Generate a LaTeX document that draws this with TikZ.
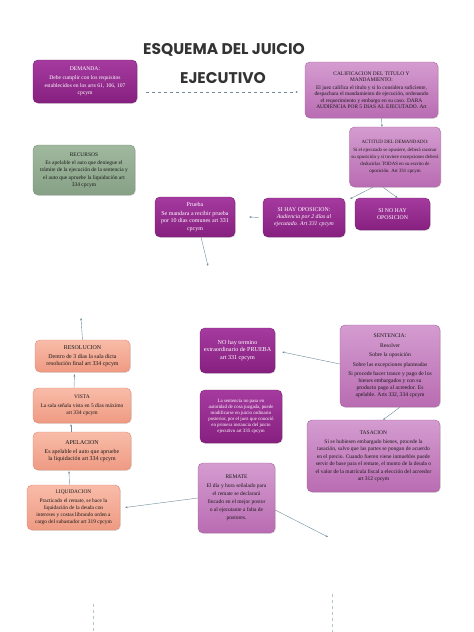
\documentclass[tikz,border=0pt]{standalone}
\usepackage{fontspec}
\setmainfont{Liberation Serif}
\newfontfamily\titlefont{Poppins}
\usetikzlibrary{arrows.meta,shadows}
\definecolor{magtop}{HTML}{A53A9F}
\definecolor{magbot}{HTML}{86207F}
\definecolor{magline}{HTML}{7A1C74}
\definecolor{lilatop}{HTML}{D49CD0}
\definecolor{lilabot}{HTML}{B96CB2}
\definecolor{lilaline}{HTML}{A9629F}
\definecolor{saltop}{HTML}{F8BCA8}
\definecolor{salbot}{HTML}{EF9A83}
\definecolor{salline}{HTML}{E28A73}
\definecolor{gretop}{HTML}{A0B89E}
\definecolor{grebot}{HTML}{87A186}
\definecolor{greline}{HTML}{7A9479}
\definecolor{linkcol}{HTML}{6F8C9A}
\begin{document}
\begin{tikzpicture}[x=1pt,y=-1pt,
    box/.style={rounded corners=5pt, align=center, inner sep=2pt,
      font=\fontsize{5.5}{7.2}\selectfont,
      drop shadow={opacity=0.25,shadow xshift=0.8pt,shadow yshift=-0.8pt}},
    magbox/.style={box, top color=magtop, bottom color=magbot, draw=magline, text=white},
    lilabox/.style={box, top color=lilatop, bottom color=lilabot, draw=lilaline, text=black!90},
    salbox/.style={box, top color=saltop, bottom color=salbot, draw=salline, text=black!90},
    grebox/.style={box, top color=gretop, bottom color=grebot, draw=greline, text=black!90},
    link/.style={draw=linkcol, line width=0.4pt, -{Stealth[length=2.4pt,width=2pt]}},
    trail/.style={draw=linkcol!50, line width=0.4pt, dashed}]
    \useasboundingbox[fill=white] (0,0) rectangle (474,632);
    % title
    \node[font=\titlefont\bfseries\fontsize{15.5}{16}\selectfont, text=black!80] (title1) at (224,50) {ESQUEMA DEL JUICIO};
    \node[font=\titlefont\bfseries\fontsize{15.5}{16}\selectfont, text=black!80] (title2) at (223,78) {EJECUTIVO};
    % first row
    \node[magbox, minimum width=104pt, minimum height=43pt, font=\fontsize{5.6}{7.5}\selectfont] (demanda) at (85,81.5)
        {DEMANDA:\\[1.5pt] Debe cumplir con los requisitos\\ establecidos en los arts 61, 106, 107\\ cpcym};
    \node[lilabox, minimum width=133pt, minimum height=56pt, font=\fontsize{5.4}{6.3}\selectfont] (calif) at (371.5,90)
        {CALIFICACION DEL TITULO Y\\ MANDAMIENTO:\\[2pt] El juez califica el título y si lo considera suficiente,\\ despachara el mandamiento de ejecución, ordenando\\ el requerimiento y embargo en su caso. DARA\\ AUDIENCIA POR 5 DIAS AL EJECUTADO. Art};
    \node[lilabox, minimum width=90pt, minimum height=60pt, font=\fontsize{4.9}{7}\selectfont] (actitud) at (395,157)
        {ACTITUD DEL DEMANDADO:\\[1pt] Si el ejecutado se opusiere, deberá razonar\\ su oposición y si tuviere excepciones deberá\\ deducirlas TODAS en su escrito de\\ oposición. Art 331 cpcym};
    \node[grebox, minimum width=102pt, minimum height=50pt] (recursos) at (84,170)
        {RECURSOS\\[1.5pt] Es apelable el auto que deniegue el\\ trámite de la ejecución de la sentencia y\\ el auto que apruebe la liquidación art\\ 334 cpcym};
    \node[magbox, minimum width=80pt, minimum height=40pt, font=\fontsize{6}{7.6}\selectfont] (prueba) at (195,217)
        {Prueba\\[1pt] Se mandara a recibir prueba\\ por 10 días comunes art 331\\ cpcym};
    \node[magbox, minimum width=82pt, minimum height=39pt, font=\fontsize{5.8}{7}\selectfont] (sihay) at (304,217.5)
        {SI HAY OPOSICION:\\ \itshape Audiencia por 2 días al\\ \itshape ejecutado. Art 331 cpcym};
    \node[magbox, minimum width=75pt, minimum height=32pt, font=\fontsize{5.8}{7}\selectfont] (sinohay) at (392.5,214)
        {SI NO HAY\\ OPOSICION};
    % middle
    \node[magbox, minimum width=75pt, minimum height=45pt, font=\fontsize{6.1}{7.6}\selectfont] (nohay) at (237.5,350.5)
        {NO hay termino\\ extraordinario de PRUEBA\\ art 331 cpcym};
    \node[lilabox, minimum width=100pt, minimum height=82pt, font=\fontsize{5.6}{7}\selectfont] (sentencia) at (390,366)
        {SENTENCIA:\\[2.5pt] Resolver\\[2.5pt] Sobre la oposición\\[2.5pt] Sobre las excepciones planteadas\\[2.5pt] Si procede hacer trance y pago de los\\ bienes embargados y con su\\ producto pago al acreedor. Es\\ apelable. Arts 332, 334 cpcym};
    \node[magbox, minimum width=82pt, minimum height=53pt, font=\fontsize{4.9}{6.1}\selectfont] (lasent) at (241,416.5)
        {La sentencia no pasa en\\ autoridad de cosa juzgada, puede\\ modificarse en juicio ordinario\\ posterior, por el juez que conoció\\ en primera instancia del juicio\\ ejecutivo art 335 cpcym};
    \node[lilabox, minimum width=133pt, minimum height=72pt, font=\fontsize{5.5}{7.4}\selectfont] (tasacion) at (373.5,456)
        {TASACION\\[2pt] Si se hubiesen embargado bienes, procede la\\ tasación, salvo que las partes se pongan de acuerdo\\ en el precio. Cuando fueren viene inmuebles puede\\ servir de base para el remate, el monto de la deuda o\\ el valor de la matrícula fiscal a elección del acreedor\\ art 312 cpcym};
    \node[lilabox, minimum width=77pt, minimum height=70pt, font=\fontsize{5.5}{8}\selectfont] (remate) at (236.5,498)
        {REMATE\\[1.5pt] El día y hora señalado para\\ el remate se declarará\\ fincado en el mejor postor\\ o al ejecutante a falta de\\ postores.};
    % left column
    \node[salbox, minimum width=95pt, minimum height=32pt, font=\fontsize{5.9}{7.2}\selectfont] (resolucion) at (82.5,356)
        {RESOLUCION\\[2pt] Dentro de 3 días la sala dicta\\ resolución final art 334 cpcym};
    \node[salbox, minimum width=98pt, minimum height=35pt] (vista) at (82,405.5)
        {VISTA\\[2pt] La sala señala vista en 5 días máximo\\ art 334 cpcym};
    \node[salbox, minimum width=98pt, minimum height=38pt, font=\fontsize{5.9}{7.2}\selectfont] (apelacion) at (82,451)
        {APELACION\\[2pt] Es apelable el auto que apruebe\\ la liquidación art 334 cpcym};
    \node[salbox, minimum width=93pt, minimum height=45pt, font=\fontsize{5.4}{7.2}\selectfont] (liquidacion) at (73.5,507.5)
        {LIQUIDACION\\[1pt] Practicado el remate, se hace la\\ liquidación de la deuda con\\ intereses y costas librando orden a\\ cargo del subastador art 319 cpcym};
    % loose ends
    \coordinate (d1) at (146,92);
    \coordinate (d2) at (298,92);
    \coordinate (p1) at (208,266);
    \coordinate (r1) at (328,537);
    \coordinate (s1) at (81,318);
    \coordinate (b1) at (93,604);
    \coordinate (b2) at (93,632);
    \coordinate (b3) at (332,594);
    \coordinate (b4) at (332,632);
    % connectors
    \draw[link, dashed] (d1) -- (d2);
    \draw[link] ([xshift=10pt]calif.south) -- ([xshift=-13pt]actitud.north);
    \draw[link] ([xshift=-22pt]actitud.south) -- ([xshift=5pt,yshift=-1pt]sihay.north east);
    \draw[link] ([xshift=-12pt]actitud.south) -- ([xshift=5pt]sinohay.north);
    \draw[link] ([xshift=-4pt]sihay.west) -- ([xshift=14pt]prueba.east);
    \draw[link] ([xshift=6pt]prueba.south) -- (p1);
    \draw[link] ([yshift=2pt]sentencia.west) -- ([xshift=7pt,yshift=-1.5pt]nohay.east);
    \draw[link] ([xshift=10pt]sentencia.south) -- ([xshift=9.5pt]tasacion.north);
    \draw[link] ([yshift=-12pt]remate.east) -- (r1);
    \draw[link] (remate.west) -- ([xshift=5pt]liquidacion.east);
    \draw[link] ([xshift=-4pt]liquidacion.north) -- ([xshift=-13pt,yshift=-1pt]apelacion.south);
    \draw[link] ([xshift=-11pt]apelacion.north) -- ([xshift=-11pt,yshift=-1pt]vista.south);
    \draw[link] ([xshift=-8pt]vista.north) -- ([xshift=-8pt,yshift=-2pt]resolucion.south);
    \draw[link] (resolucion.north) -- (s1);
    \draw[trail] (b1) -- (b2);
    \draw[trail] (b3) -- (b4);
\end{tikzpicture}
\end{document}
